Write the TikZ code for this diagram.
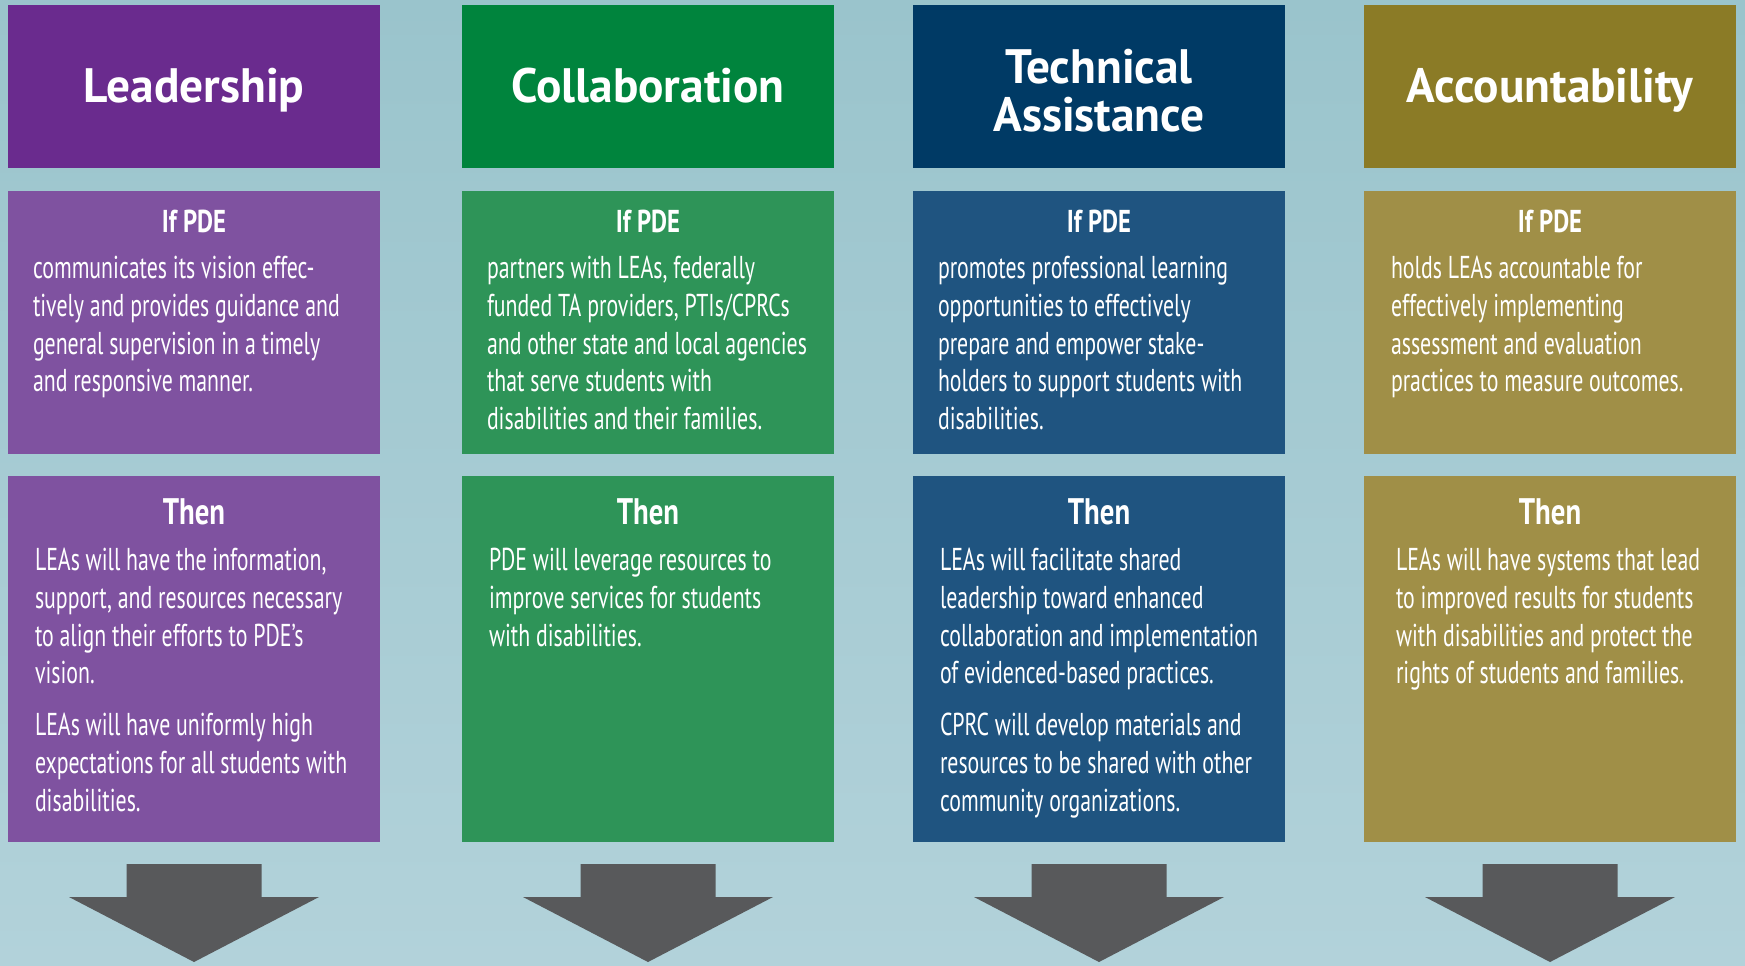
\documentclass[tikz,border=0pt]{standalone}
\usepackage{fontspec}
\setmainfont{PT Sans}
\newfontfamily\condfont[FakeStretch=0.69]{PT Sans}
\newfontfamily\labelfont[FakeStretch=0.78]{PT Sans}
\newfontfamily\headfont[FakeStretch=0.98]{PT Sans}
\usetikzlibrary{positioning}
\definecolor{bgtop}{RGB}{154,196,204}
\definecolor{bgbot}{RGB}{178,210,218}
\definecolor{leadhead}{RGB}{106,43,142}
\definecolor{leadbody}{RGB}{127,82,160}
\definecolor{collabhead}{RGB}{0,132,61}
\definecolor{collabbody}{RGB}{46,148,88}
\definecolor{techhead}{RGB}{0,58,101}
\definecolor{techbody}{RGB}{31,84,128}
\definecolor{accthead}{RGB}{139,123,38}
\definecolor{acctbody}{RGB}{160,143,71}
\definecolor{arrowgray}{RGB}{88,89,91}
\tikzset{
every node/.style={outer sep=0pt, text=white}, % white text everywhere
headbox/.style={minimum width=7.44cm, minimum height=3.26cm, inner sep=0pt},
headtitle/.style={inner sep=0pt, anchor=base, align=center,
  font=\headfont\bfseries\fontsize{27.5}{27.3}\selectfont},
ifbox/.style={minimum width=7.44cm, minimum height=5.26cm, inner sep=0pt},
thenbox/.style={minimum width=7.44cm, minimum height=7.32cm, inner sep=0pt},
iflabel/.style={inner sep=0pt, anchor=base, font=\labelfont\bfseries\fontsize{18}{20}\selectfont},
thenlabel/.style={inner sep=0pt, anchor=base, font=\labelfont\bfseries\fontsize{21}{24}\selectfont},
bodytext/.style={inner sep=0pt, anchor=north west, align=left, font=\condfont\fontsize{18}{21.45}\selectfont},
}
\begin{document}
\begin{tikzpicture}
\fill[top color=bgtop, bottom color=bgbot] (0,0) rectangle (34.9,-19.3);
\useasboundingbox (0,0) rectangle (34.9,-19.3);

% the four columns
\foreach \n/\x/\dy/\hc/\bc/\title in {lead/3.88/0.31/leadhead/leadbody/Leadership,
    collab/12.96/0.31/collabhead/collabbody/Collaboration,
    tech/21.98/0.89/techhead/techbody/{Technical\\Assistance},
    acct/31.00/0.31/accthead/acctbody/Accountability}
{
  \node[headbox, fill=\hc] (\n-head) at (\x,-1.73) {};
  \node[headtitle] (\n-title) at ([yshift=-\dy cm]\n-head.center) {\title};
  \node[ifbox, fill=\bc, below=0.46cm of \n-head] (\n-if) {};
  \node[thenbox, fill=\bc, below=0.44cm of \n-if] (\n-then) {};
  \node[iflabel] (\n-iflabel) at ([yshift=-0.82cm]\n-if.north) {If PDE};
  \node[thenlabel] (\n-thenlabel) at ([yshift=-0.96cm]\n-then.north) {Then};
  \fill[arrowgray] ([xshift=-1.35cm,yshift=-0.44cm]\n-then.south)
    -- ([xshift=1.35cm,yshift=-0.44cm]\n-then.south)
    -- ([xshift=1.35cm,yshift=-1.1cm]\n-then.south)
    -- ([xshift=2.5cm,yshift=-1.1cm]\n-then.south)
    -- ([yshift=-2.4cm]\n-then.south)
    -- ([xshift=-2.5cm,yshift=-1.1cm]\n-then.south)
    -- ([xshift=-1.35cm,yshift=-1.1cm]\n-then.south) -- cycle;
}

% If PDE texts
\node[bodytext] (lead-iftext) at ([shift={(0.5,-1.23)}]lead-if.north west)
  {\strut communicates its vision effec-\\tively and provides guidance and\\general supervision in a timely\\and responsive manner.};
\node[bodytext] (collab-iftext) at ([shift={(0.5,-1.23)}]collab-if.north west)
  {\strut partners with LEAs, federally\\funded TA providers, PTIs/CPRCs\\and other state and local agencies\\that serve students with\\disabilities and their families.};
\node[bodytext] (tech-iftext) at ([shift={(0.5,-1.23)}]tech-if.north west)
  {\strut promotes professional learning\\opportunities to effectively\\prepare and empower stake-\\holders to support students with\\disabilities.};
\node[bodytext] (acct-iftext) at ([shift={(0.54,-1.23)}]acct-if.north west)
  {\strut holds LEAs accountable for\\effectively implementing\\assessment and evaluation\\practices to measure outcomes.};

% Then texts
\node[bodytext] (lead-thentext) at ([shift={(0.54,-1.37)}]lead-then.north west)
  {\strut LEAs will have the information,\\support, and resources necessary\\to align their efforts to PDE’s\\vision.\\[8pt]LEAs will have uniformly high\\expectations for all students with\\disabilities.};
\node[bodytext] (collab-thentext) at ([shift={(0.54,-1.37)}]collab-then.north west)
  {\strut PDE will leverage resources to\\improve services for students\\with disabilities.};
\node[bodytext] (tech-thentext) at ([shift={(0.54,-1.37)}]tech-then.north west)
  {\strut LEAs will facilitate shared\\leadership toward enhanced\\collaboration and implementation\\of evidenced-based practices.\\[8pt]CPRC will develop materials and\\resources to be shared with other\\community organizations.};
\node[bodytext] (acct-thentext) at ([shift={(0.64,-1.37)}]acct-then.north west)
  {\strut LEAs will have systems that lead\\to improved results for students\\with disabilities and protect the\\rights of students and families.};
\end{tikzpicture}
\end{document}
